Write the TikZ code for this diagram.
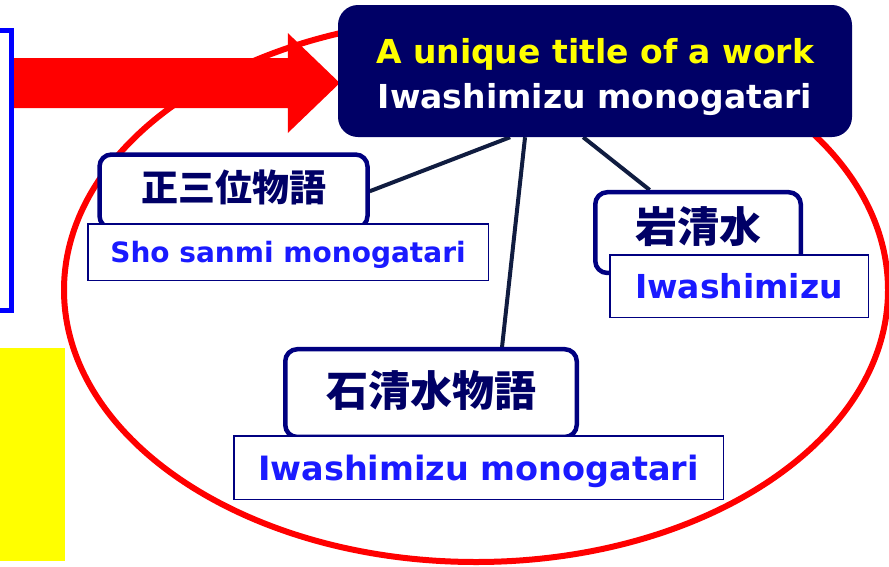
\documentclass[tikz,border=0pt]{standalone}
\usepackage{fontspec}
\usepackage{tikz}
\usetikzlibrary{positioning,calc,backgrounds}
\setmainfont{DejaVu Sans}
\newfontfamily\jpfont{Noto Sans CJK JP}
\usepackage{xcolor}

\definecolor{titlenavy}{RGB}{0,0,102}
\definecolor{titleyellow}{RGB}{255,255,0}
\definecolor{boxnavy}{RGB}{0,0,128}
\definecolor{textnavy}{RGB}{0,0,102}
\definecolor{nameblue}{RGB}{26,26,255}
\definecolor{linkcol}{RGB}{16,28,64}
\definecolor{arrowred}{RGB}{255,0,0}
\definecolor{frameblue}{RGB}{0,0,255}

\begin{document}
\begin{tikzpicture}[x=1pt, y=-1pt,
    jbox/.style={draw=boxnavy, line width=4.5pt, rounded corners=12pt, fill=white,
        text=textnavy, font=\jpfont\bfseries\fontsize{#1}{#1}\selectfont,
        text depth=0pt, inner sep=0pt},
    ebox/.style={draw=boxnavy, line width=1.5pt, fill=white, text=nameblue,
        font=\bfseries\fontsize{#1}{#1}\selectfont, text depth=0pt, inner sep=0pt},
    link/.style={draw=linkcol, line width=4pt}]
    \useasboundingbox (0,0) rectangle (889,566);

    % red ring round the titles
    \draw[arrowred, line width=6pt] (476,290) ellipse [x radius=412pt, y radius=272pt];

    % frames at the left edge
    \node[draw=frameblue, line width=5pt, minimum width=31.5pt, minimum height=280pt,
        inner sep=0pt] (leftframe) at (-4.25,170.5) {};
    \node[fill=titleyellow, minimum width=75pt, minimum height=213pt,
        inner sep=0pt] (leftpatch) at (27.5,454.5) {};

    % unique title
    \node[fill=titlenavy, rounded corners=20pt, minimum width=514pt, minimum height=132pt,
        inner sep=0pt, align=center, text=white, text height=74pt, text depth=0pt,
        font=\bfseries\fontsize{33}{45}\selectfont] (title) at (595,71)
        {{\color{titleyellow}A unique title of a work}\\Iwashimizu monogatari};

    % variant titles
    \node[jbox=37, minimum width=268pt, minimum height=73.5pt, text height=20.6pt]
        (shojp) at (233.5,191.25) {正三位物語};
    \node[ebox=28, minimum width=400.5pt, minimum height=56.5pt]
        (shoen) at (288,252) {Sho sanmi monogatari};

    \node[jbox=42, minimum width=205.5pt, minimum height=80.75pt, text height=19.7pt]
        (iwajp) at (698,232.6) {岩清水};
    \node[ebox=33, minimum width=258.5pt, minimum height=62.5pt]
        (iwaen) at (739,286) {Iwashimizu};

    \node[jbox=42, minimum width=291.5pt, minimum height=87.75pt, text height=27.7pt]
        (ishijp) at (431,393.1) {石清水物語};
    \node[ebox=33.5, minimum width=489.5pt, minimum height=63.5pt]
        (ishien) at (478.5,467.5) {Iwashimizu monogatari};

    % big arrow and links
    \coordinate (arrtip) at ([xshift=2pt,yshift=-12pt]title.west);
    \begin{scope}[on background layer]
        \fill[arrowred] ($(leftframe.east |- arrtip)+(0,-25)$) -- ($(arrtip)+(-52,-25)$)
            -- ($(arrtip)+(-52,-50)$) -- (arrtip) -- ($(arrtip)+(-52,50)$)
            -- ($(arrtip)+(-52,25)$) -- ($(leftframe.east |- arrtip)+(0,25)$) -- cycle;

        \draw[link] ($(title.south west)!0.335!(title.south east)$) -- (shojp.east);
        \draw[link] ($(title.south west)!0.364!(title.south east)$)
            -- ($(ishijp.north west)!0.74!(ishijp.north east)$);
        \draw[link] ($(title.south west)!0.477!(title.south east)$)
            -- ($(iwajp.north west)!0.27!(iwajp.north east)$);
    \end{scope}
\end{tikzpicture}
\end{document}
